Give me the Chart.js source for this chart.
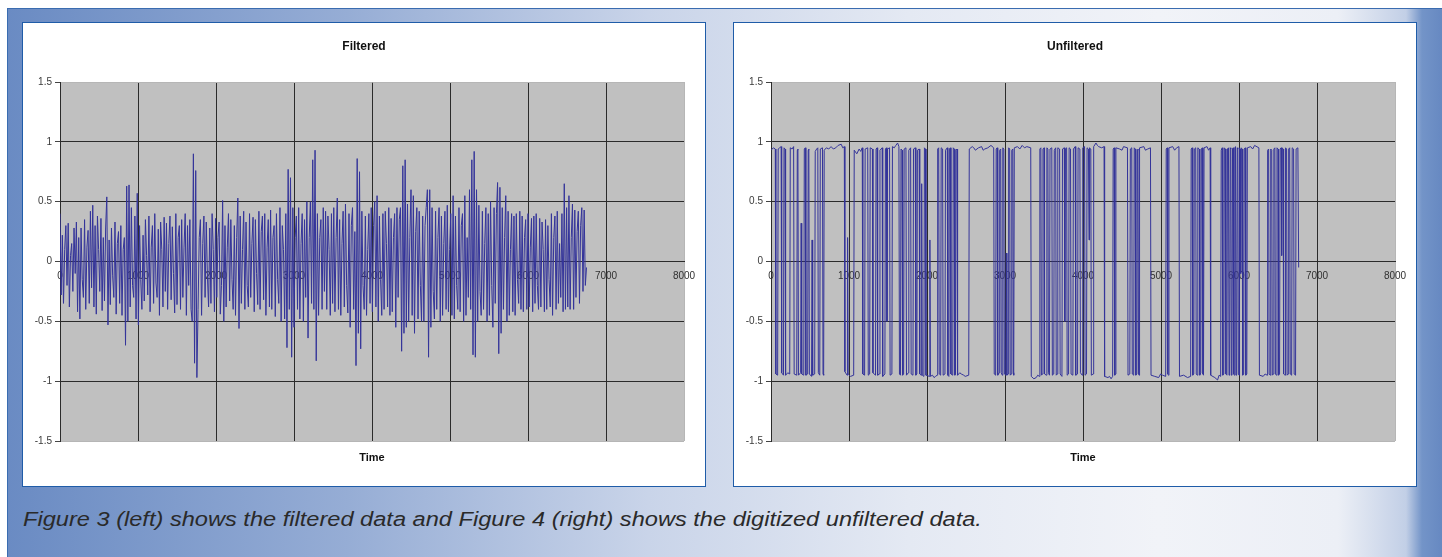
<!DOCTYPE html>
<html>
<head>
<meta charset="utf-8">
<script src="https://cdn.jsdelivr.net/npm/chart.js@4.4.1/dist/chart.umd.min.js"></script>
<style>
html,body{margin:0;padding:0;width:1442px;height:557px;overflow:hidden;background:#ffffff;}
#frame{position:absolute;left:7px;top:8px;width:1435px;height:549px;box-sizing:border-box;
  border-left:1px solid #3a6cb0;border-top:1px solid #3a6cb0;
  background:linear-gradient(to right,#6a8bc3 0px,#96add5 340px,#c9d4e9 640px,#e4e9f3 900px,#f1f3f8 1150px,#eceff6 1330px,#c2cfe6 1398px,#7394c8 1414px,#6688c1 1435px);}
.panel{position:absolute;top:22px;width:684px;height:465px;background:#ffffff;border:1px solid #1f5ca8;box-sizing:border-box;}
.panel canvas{position:absolute;left:0;top:0;}
.ctitle{position:absolute;left:0;top:16px;width:682px;text-align:center;font:bold 12px "Liberation Sans",Arial,sans-serif;color:#111;line-height:14px;}
.xtitle{position:absolute;left:37px;top:428px;width:624px;text-align:center;font:bold 11px "Liberation Sans",Arial,sans-serif;color:#111;line-height:13px;}
#caption{position:absolute;left:23px;top:508px;font:italic 20px "Liberation Sans",Arial,sans-serif;color:#2a2a2a;white-space:nowrap;line-height:23px;transform:scaleX(1.18);transform-origin:0 50%;}
</style>
</head>
<body>
<div id="frame"></div>
<div class="panel" style="left:22px;">
  <canvas id="c1" width="682" height="463"></canvas>
  <div class="ctitle">Filtered</div>
  <div class="xtitle">Time</div>
</div>
<div class="panel" style="left:733px;">
  <canvas id="c2" width="682" height="463"></canvas>
  <div class="ctitle">Unfiltered</div>
  <div class="xtitle">Time</div>
</div>
<div id="caption">Figure 3 (left) shows the filtered data and Figure 4 (right) shows the digitized unfiltered data.</div>
<script>
// ---- data ----
const timeTicks = [0, 1000, 2000, 3000, 4000, 5000, 6000, 7000, 8000];
const valueTicks = [-1.5, -1, -0.5, 0, 0.5, 1, 1.5];

// filtered signal, one value every 15 samples
const filteredStep = 15;
const filteredValues = [
  0.40,-0.28,0.22,-0.35,0.10,0.30,-0.20,0.32,-0.38,0.05,0.15,-0.25,0.28,-0.10,0.33,
  -0.42,0.20,-0.48,0.28,-0.15,-0.30,0.35,-0.40,0.12,0.26,-0.35,0.42,-0.22,0.47,-0.38,
  0.30,-0.44,0.38,0.10,-0.25,0.36,-0.41,0.20,-0.33,0.28,0.54,-0.53,0.18,-0.36,0.28,
  -0.12,-0.30,0.33,-0.44,0.15,0.25,-0.35,0.30,-0.45,0.10,0.20,-0.70,0.63,-0.50,0.64,
  -0.38,0.45,-0.20,-0.30,0.38,-0.48,0.57,-0.53,0.30,-0.15,-0.40,0.22,-0.33,0.35,0.05,
  -0.28,0.38,-0.42,0.12,0.30,-0.35,0.40,-0.18,-0.30,0.27,-0.45,0.33,0.10,-0.38,0.37,
  -0.25,0.32,-0.40,0.15,0.38,-0.32,0.29,-0.10,-0.43,0.40,-0.36,0.20,0.30,-0.40,0.35,
  -0.30,0.12,0.40,-0.45,0.30,-0.20,0.35,-0.40,-0.50,0.90,-0.85,0.76,-0.97,-0.40,0.20,
  0.35,-0.45,0.15,0.38,-0.30,0.33,-0.12,-0.38,0.28,-0.35,0.40,0.10,-0.42,0.36,-0.30,
  0.20,0.33,-0.44,-0.20,0.51,-0.50,0.30,-0.38,0.12,0.40,-0.33,0.35,-0.15,-0.40,0.30,
  -0.45,0.20,0.53,-0.56,0.38,-0.35,0.10,0.42,-0.40,0.33,-0.20,-0.38,0.40,-0.30,0.15,
  0.37,-0.42,0.35,-0.10,-0.36,0.42,-0.40,0.25,0.38,-0.32,0.40,-0.45,0.12,0.35,-0.38,
  0.43,-0.40,0.20,0.30,-0.46,0.40,-0.15,-0.35,0.45,-0.50,0.30,0.10,-0.48,0.40,-0.72,
  0.77,-0.40,0.70,-0.80,0.45,-0.55,0.20,0.38,-0.40,0.45,-0.48,0.15,0.40,-0.50,0.35,
  -0.30,0.50,-0.64,0.20,0.50,-0.35,0.85,-0.40,0.93,-0.83,0.40,-0.45,0.20,0.35,-0.40,
  0.45,-0.25,0.42,-0.40,0.38,0.10,-0.45,0.40,-0.35,0.45,-0.42,0.20,0.53,-0.40,0.35,
  -0.45,0.15,0.42,-0.38,0.48,-0.20,-0.43,0.40,-0.55,0.30,0.45,-0.40,0.25,-0.87,0.86,
  -0.60,0.75,-0.73,0.42,-0.20,-0.40,0.38,-0.45,0.10,0.40,-0.35,0.45,-0.42,0.30,0.50,
  -0.38,0.55,-0.50,0.38,-0.15,-0.45,0.40,-0.40,0.42,0.15,-0.38,0.45,-0.45,0.36,-0.42,
  0.20,0.40,-0.55,0.45,-0.30,0.35,0.45,-0.75,0.80,-0.60,0.85,-0.55,0.48,-0.50,0.20,
  0.60,-0.45,0.55,-0.60,0.25,0.45,-0.48,0.42,-0.20,-0.50,0.38,-0.50,0.30,0.45,0.60,
  -0.80,0.60,-0.55,0.45,-0.25,-0.48,0.42,-0.40,0.20,0.45,-0.50,0.38,-0.45,0.15,0.42,
  -0.40,0.47,-0.42,0.10,0.40,-0.45,0.55,-0.48,0.38,-0.20,-0.40,0.45,-0.42,0.30,0.40,
  -0.50,0.55,-0.45,0.20,-0.30,0.60,-0.40,0.85,-0.78,0.92,-0.80,0.60,-0.50,0.47,-0.25,
  -0.45,0.42,-0.40,0.15,0.45,-0.50,0.40,-0.45,0.50,-0.20,-0.55,0.45,-0.35,0.40,0.66,
  -0.77,0.62,-0.60,0.45,-0.40,0.20,0.55,-0.50,0.42,-0.45,0.10,0.40,-0.42,0.38,-0.45,
  0.40,-0.15,-0.35,0.42,-0.40,0.38,-0.42,0.20,0.35,-0.40,0.40,-0.38,0.12,0.36,-0.42,
  0.38,-0.35,0.40,-0.20,-0.40,0.36,-0.38,0.33,0.10,-0.42,0.35,-0.40,0.30,-0.15,-0.38,
  0.40,-0.45,0.20,0.38,-0.40,0.42,-0.35,0.15,-0.30,0.40,-0.42,0.65,-0.40,0.45,-0.38,
  0.55,-0.40,0.20,0.48,-0.40,0.43,-0.30,0.25,0.42,-0.35,0.30,0.45,-0.25,0.43,-0.20,
  -0.05
];

const unfilteredSamples = [
  [0,0.93],[30,0.95],[55,0.94],[62,-0.94],[85,-0.95],[92,0.94],[110,0.95],[130,0.96],[137,-0.93],[160,-0.95],
  [167,0.95],[180,0.94],[187,-0.95],[215,-0.93],[240,-0.94],[247,0.95],[270,0.94],[290,0.96],[297,-0.94],[330,-0.95],
  [337,0.93],[345,0.94],[352,-0.95],[380,-0.93],[387,0.32],[394,-0.94],[420,-0.95],
  [427,0.94],[440,0.95],[447,-0.95],[470,-0.94],[477,0.93],[485,0.94],[492,-0.94],[520,-0.96],
  [527,0.18],[534,-0.95],[560,-0.94],[567,0.92],[585,0.94],[600,0.95],[607,-0.93],[625,-0.95],
  [632,0.94],[660,0.95],[667,-0.94],[675,-0.95],
  [682,0.93],[710,0.95],[740,0.94],[770,0.96],[800,0.94],[830,0.95],[860,0.97],[900,0.98],[920,0.95],[940,0.96],
  [947,-0.92],[975,-0.95],[982,0.20],[989,-0.94],[1020,-0.96],[1060,-0.95],
  [1067,0.93],[1100,0.90],[1130,0.94],[1150,0.92],[1170,0.95],[1177,-0.94],[1200,-0.95],
  [1207,0.94],[1240,0.95],[1247,-0.95],[1265,-0.94],[1272,0.95],[1300,0.94],
  [1307,-0.93],[1340,-0.95],[1347,0.94],[1360,0.95],[1367,-0.95],[1390,-0.94],
  [1397,0.93],[1425,0.95],[1432,-0.96],[1460,-0.94],[1467,0.94],[1480,0.95],[1487,-0.50],
  [1494,0.94],[1520,0.95],[1527,-0.95],[1550,-0.94],
  [1557,0.96],[1580,0.95],[1600,0.97],[1623,0.99],[1640,0.96],[1647,-0.94],[1660,-0.95],
  [1667,0.94],[1680,0.93],[1687,-0.95],[1700,-0.94],[1707,0.94],[1730,0.95],
  [1737,-0.95],[1760,-0.93],[1767,0.93],[1790,0.95],[1797,-0.94],[1820,-0.95],
  [1827,0.94],[1850,0.95],[1857,-0.95],[1870,-0.94],[1877,0.93],[1900,0.94],
  [1907,-0.94],[1925,-0.95],[1932,0.65],[1939,-0.95],[1960,-0.96],[1967,0.95],[1980,0.94],
  [1987,-0.95],[2030,-0.96],[2037,0.18],[2044,-0.96],[2070,-0.95],[2090,-0.97],[2110,-0.96],[2130,-0.95],
  [2137,0.94],[2150,0.95],[2157,-0.94],[2175,-0.95],[2182,0.95],[2200,0.94],
  [2207,-0.95],[2230,-0.94],[2237,0.93],[2260,0.95],[2267,-0.95],[2280,-0.96],
  [2287,0.94],[2300,0.95],[2307,-0.94],[2330,-0.95],[2337,0.95],[2350,0.94],
  [2357,-0.95],[2365,-0.94],[2372,0.93],[2385,0.94],
  [2392,-0.95],[2420,-0.93],[2440,-0.94],[2470,-0.95],[2490,-0.96],[2535,-0.95],
  [2542,0.94],[2580,0.96],[2600,0.95],[2620,0.93],[2660,0.95],[2700,0.96],[2720,0.93],[2740,0.94],[2780,0.95],[2820,0.97],[2855,0.95],
  [2862,-0.94],[2880,-0.95],[2887,0.94],[2900,0.95],[2907,-0.95],[2925,-0.93],
  [2932,0.93],[2945,0.94],[2952,-0.93],[2965,-0.95],[2972,0.95],[2985,0.94],
  [2992,-0.94],[3010,-0.95],[3017,0.07],[3024,-0.95],[3040,-0.94],[3047,0.95],[3060,0.94],
  [3067,-0.95],[3080,-0.94],[3087,0.93],[3100,0.94],[3107,-0.93],[3112,-0.95],
  [3119,0.95],[3160,0.96],[3190,0.94],[3220,0.97],[3250,0.95],[3280,0.96],[3330,0.95],
  [3337,-0.96],[3370,-0.98],[3400,-0.97],[3420,-0.95],[3440,-0.96],
  [3447,0.94],[3460,0.95],[3467,-0.95],[3480,-0.94],[3487,0.94],[3500,0.95],
  [3507,-0.94],[3530,-0.95],[3537,0.95],[3550,0.94],[3557,-0.93],[3570,-0.95],
  [3577,0.94],[3600,0.95],[3607,-0.95],[3625,-0.94],[3632,0.93],[3650,0.95],
  [3657,-0.95],[3670,-0.94],[3677,0.95],[3700,0.94],[3707,-0.94],[3730,-0.96],
  [3737,0.94],[3760,0.95],[3767,-0.50],[3774,0.94],[3790,0.95],[3797,-0.95],[3815,-0.94],
  [3822,0.95],[3840,0.94],[3847,-0.94],[3870,-0.95],[3877,0.94],[3900,0.96],
  [3907,-0.95],[3930,-0.94],[3937,0.95],[3960,0.94],[3967,-0.93],[3990,-0.95],
  [3997,0.95],[4020,0.96],[4027,-0.95],[4045,-0.94],[4052,0.95],[4070,0.94],[4077,0.18],
  [4084,0.95],[4100,0.94],[4107,-0.95],[4130,-0.94],
  [4137,0.96],[4166,0.99],[4185,0.97],[4200,0.96],[4240,0.95],[4270,0.96],
  [4277,-0.96],[4320,-0.97],[4340,-0.96],[4360,-0.98],[4380,-0.96],
  [4387,0.94],[4400,0.95],[4407,-0.95],[4415,-0.94],
  [4422,0.95],[4470,0.94],[4500,0.93],[4520,0.96],[4570,0.95],
  [4577,-0.95],[4600,-0.94],[4607,0.94],[4625,0.95],[4632,-0.94],[4650,-0.95],
  [4657,0.95],[4670,0.94],[4677,-0.95],[4690,-0.94],[4697,0.93],[4705,0.94],[4712,-0.94],[4718,-0.95],
  [4725,0.95],[4780,0.96],[4800,0.93],[4830,0.94],[4865,0.95],
  [4872,-0.95],[4920,-0.96],[4970,-0.97],[4995,-0.94],[5020,-0.95],[5060,-0.96],
  [5067,0.94],[5080,0.95],[5087,-0.94],[5095,-0.95],
  [5102,0.95],[5150,0.96],[5175,0.93],[5200,0.95],[5230,0.96],
  [5237,-0.96],[5290,-0.95],[5340,-0.97],[5380,-0.96],
  [5387,0.94],[5400,0.95],[5407,-0.95],[5420,-0.94],[5427,0.94],[5445,0.95],
  [5452,-0.94],[5465,-0.95],[5472,0.95],[5490,0.94],[5497,-0.95],[5510,-0.93],
  [5517,0.94],[5530,0.95],[5537,-0.94],[5545,-0.95],
  [5552,0.95],[5590,0.96],[5610,0.93],[5630,0.95],
  [5637,-0.95],[5690,-0.97],[5725,-0.99],[5745,-0.95],[5765,-0.96],
  [5772,0.93],[5785,0.95],[5792,-0.95],[5805,-0.94],[5812,0.95],[5825,0.94],
  [5832,-0.94],[5845,-0.95],[5852,0.94],[5865,0.95],[5872,-0.95],[5880,-0.94],
  [5887,0.95],[5895,0.94],[5902,-0.95],[5910,-0.94],[5917,0.94],[5925,0.95],
  [5932,-0.94],[5940,-0.95],[5947,0.95],[5955,0.96],[5962,-0.95],[5970,-0.94],
  [5977,0.95],[5985,0.94],[5992,-0.94],[6000,-0.95],[6007,0.95],[6015,0.94],[6022,-0.10],
  [6029,0.95],[6040,0.94],[6047,-0.95],[6060,-0.94],[6067,0.94],[6080,0.95],
  [6087,-0.95],[6100,-0.94],
  [6107,0.95],[6150,0.96],[6175,0.94],[6200,0.97],[6255,0.95],
  [6262,-0.95],[6310,-0.96],[6335,-0.94],[6360,-0.95],
  [6367,0.93],[6380,0.94],[6387,-0.94],[6400,-0.95],[6407,0.94],[6420,0.93],
  [6427,-0.95],[6440,-0.94],[6447,0.94],[6460,0.95],[6467,-0.94],[6480,-0.95],
  [6487,0.95],[6500,0.94],[6507,-0.95],[6520,-0.94],[6527,0.94],[6540,0.95],[6547,0.05],
  [6554,0.95],[6565,0.94],[6572,-0.94],[6590,-0.95],[6597,0.95],[6610,0.94],
  [6617,-0.95],[6630,-0.94],[6637,0.94],[6650,0.95],[6657,-0.94],[6675,-0.95],
  [6682,0.95],[6700,0.94],[6707,-0.94],[6725,-0.95],[6732,0.94],[6755,0.95],[6765,-0.05]
];

// ---- charts ----
const FONT = '"Liberation Sans", Arial, sans-serif';
const GRID = '#2b2b2b';
const EDGE = '#b6b6b6';

const plotBg = {
  id: 'plotBg',
  beforeDraw(chart) {
    const {ctx, chartArea: a} = chart;
    ctx.save();
    ctx.fillStyle = '#c0c0c0';
    ctx.fillRect(a.left, a.top, a.right - a.left, a.bottom - a.top);
    ctx.restore();
  }
};

function makeChart(id, points) {
  return new Chart(document.getElementById(id), {
    type: 'scatter',
    data: {
      datasets: [{
        data: points,
        showLine: true,
        borderColor: '#34349a',
        borderWidth: 1,
        pointRadius: 0,
        pointHoverRadius: 0,
        tension: 0,
        fill: false
      }]
    },
    options: {
      responsive: false,
      animation: false,
      devicePixelRatio: 1,
      events: [],
      layout: {padding: {top: 59, right: 21, bottom: 45, left: 0}},
      plugins: {legend: {display: false}, tooltip: {enabled: false}},
      scales: {
        x: {
          type: 'linear',
          position: {y: 0},
          min: timeTicks[0],
          max: timeTicks[timeTicks.length - 1],
          afterBuildTicks: s => { s.ticks = timeTicks.map(v => ({value: v})); },
          ticks: {
            autoSkip: false, maxRotation: 0, padding: 9,
            font: {family: FONT, size: 10}, color: '#303030',
            callback: v => String(v)
          },
          grid: {
            drawTicks: false,
            lineWidth: 1,
            color: c => (c.tick && c.tick.value === timeTicks[timeTicks.length - 1]) ? EDGE : GRID
          },
          border: {display: true, color: GRID, width: 1}
        },
        y: {
          type: 'linear',
          position: 'left',
          min: valueTicks[0],
          max: valueTicks[valueTicks.length - 1],
          afterBuildTicks: s => { s.ticks = valueTicks.map(v => ({value: v})); },
          afterFit: s => { s.width = 37; },
          ticks: {
            padding: 3,
            font: {family: FONT, size: 10}, color: '#3a3a3a',
            callback: v => String(v)
          },
          grid: {
            drawTicks: true,
            tickLength: 5,
            tickColor: '#444444',
            lineWidth: 1,
            color: c => (c.tick && Math.abs(c.tick.value) === 1.5) ? EDGE : GRID
          },
          border: {display: true, color: GRID, width: 1}
        }
      }
    },
    plugins: [plotBg]
  });
}

const filteredPoints = filteredValues.map((v, i) => ({x: i * filteredStep, y: v}));
const unfilteredPoints = unfilteredSamples.map(p => ({x: p[0], y: p[1]}));

makeChart('c1', filteredPoints);
makeChart('c2', unfilteredPoints);
</script>
</body>
</html>
